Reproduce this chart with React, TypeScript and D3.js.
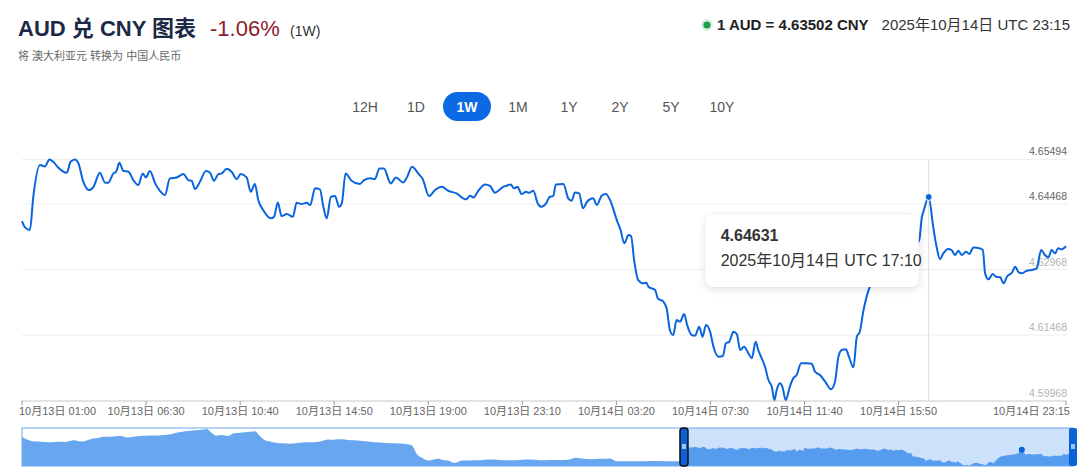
import React from 'react'
import * as d3 from 'd3'

const FONT = "'Liberation Sans', Arial, 'Noto Sans CJK SC', sans-serif"

const windowStart = '2025-10-13T01:00Z'

// minutes after 2025-10-13 01:00 UTC
const minutes = [
  0, 8, 21, 30, 48, 61, 73, 83, 96, 119, 129, 141, 150, 163, 179, 190, 207, 221, 229, 243,
  250, 259, 269, 283, 296, 309, 321, 329, 340, 354, 367, 380, 393, 411, 429, 442, 451, 460, 473, 489,
  500, 510, 522, 531, 544, 557, 571, 581, 597, 608, 619, 628, 641, 661, 670, 680, 690, 704, 720, 730,
  743, 757, 766, 779, 792, 801, 810, 821, 832, 843, 850, 860, 876, 898, 909, 925, 938, 950, 962, 980,
  994, 1013, 1023, 1037, 1053, 1065, 1082, 1098, 1116, 1133, 1155, 1180, 1191, 1200, 1213, 1231, 1244, 1257, 1279, 1288,
  1299, 1308, 1317, 1328, 1340, 1348, 1359, 1371, 1381, 1393, 1403, 1412, 1419, 1439, 1452, 1461, 1470, 1481, 1491, 1502,
  1518, 1528, 1541, 1552, 1563, 1581, 1591, 1601, 1612, 1619, 1627, 1638, 1652, 1660, 1665, 1674, 1683, 1690, 1705, 1714,
  1722, 1731, 1740, 1749, 1760, 1768, 1780, 1789, 1800, 1809, 1818, 1829, 1838, 1851, 1863, 1871, 1880, 1891, 1900, 1909,
  1919, 1931, 1940, 1950, 1957, 1966, 1975, 1984, 1993, 2000, 2006, 2015, 2021, 2030, 2041, 2050, 2059, 2071, 2086, 2099,
  2108, 2121, 2135, 2150, 2161, 2170, 2179, 2190, 2198, 2210, 2219, 2227, 2236, 2245, 2254, 2267, 2283, 2299, 2315, 2331,
  2347, 2363, 2374, 2385, 2392, 2396, 2410, 2422, 2431, 2440, 2449, 2462, 2471, 2480, 2489, 2498, 2509, 2518, 2529, 2547,
  2554, 2560, 2569, 2580, 2589, 2600, 2609, 2618, 2631, 2640, 2648, 2657, 2671, 2684, 2697, 2709, 2719, 2728, 2737, 2746,
  2754, 2763, 2775,
]

const rates = [
  4.64079, 4.63934, 4.63873, 4.64635, 4.65361, 4.6533, 4.65492, 4.65437, 4.65308, 4.65185, 4.65437, 4.65492, 4.654, 4.64979, 4.64789, 4.64864, 4.65185, 4.64956, 4.64956, 4.65171,
  4.65208, 4.65414, 4.65231, 4.65208, 4.65018, 4.64903, 4.65171, 4.65079, 4.65224, 4.64942, 4.64766, 4.64674, 4.65057, 4.65079, 4.65155, 4.65018, 4.65002, 4.64812, 4.64979, 4.65224,
  4.65185, 4.65002, 4.65155, 4.65171, 4.65276, 4.65208, 4.65041, 4.65155, 4.65079, 4.6475, 4.64926, 4.6456, 4.64331, 4.64141, 4.64177, 4.64507, 4.64193, 4.64239, 4.64177, 4.64498,
  4.64468, 4.64498, 4.64445, 4.64828, 4.64805, 4.64406, 4.64141, 4.64635, 4.64651, 4.64406, 4.64484, 4.65171, 4.65002, 4.64926, 4.65018, 4.65057, 4.65041, 4.65286, 4.65286, 4.64942,
  4.65079, 4.64965, 4.65079, 4.65322, 4.65171, 4.65041, 4.64651, 4.64789, 4.64864, 4.64773, 4.64713, 4.64576, 4.64658, 4.64621, 4.64773, 4.64919, 4.64887, 4.64727, 4.64864, 4.64887,
  4.64919, 4.64828, 4.64864, 4.64697, 4.6475, 4.64727, 4.64773, 4.64484, 4.64406, 4.64484, 4.64635, 4.64651, 4.64919, 4.64926, 4.64599, 4.64544, 4.64736, 4.64713, 4.6437, 4.64521,
  4.64599, 4.64445, 4.64663, 4.64697, 4.6456, 4.64102, 4.63873, 4.63568, 4.63758, 4.63735, 4.63186, 4.62728, 4.62652, 4.62666, 4.62574, 4.62537, 4.62499, 4.62308, 4.62231, 4.62057,
  4.61583, 4.61468, 4.61812, 4.61773, 4.61949, 4.61697, 4.61468, 4.61452, 4.61658, 4.61429, 4.61697, 4.61544, 4.612, 4.60971, 4.60987, 4.61278, 4.61315, 4.61544, 4.61491, 4.61125,
  4.612, 4.61049, 4.60934, 4.61315, 4.61125, 4.60934, 4.60742, 4.60437, 4.60284, 4.59979, 4.60208, 4.60362, 4.60284, 4.59979, 4.60284, 4.60476, 4.60552, 4.6082, 4.6082, 4.6081,
  4.60628, 4.60552, 4.60399, 4.60225, 4.60399, 4.60971, 4.61125, 4.61141, 4.60971, 4.60728, 4.61429, 4.61544, 4.62002, 4.62345, 4.6259, 4.62773, 4.62911, 4.63002, 4.6314, 4.63231,
  4.63323, 4.63415, 4.63506, 4.63644, 4.64177, 4.64292, 4.64631, 4.63948, 4.6349, 4.63208, 4.63339, 4.63437, 4.63415, 4.633, 4.63399, 4.633, 4.63376, 4.63323, 4.63476, 4.63449,
  4.63415, 4.62881, 4.62744, 4.62865, 4.62803, 4.6279, 4.62652, 4.62803, 4.62895, 4.63032, 4.62918, 4.62881, 4.62941, 4.62957, 4.62996, 4.63415, 4.633, 4.63247, 4.63415, 4.63339,
  4.63454, 4.63431, 4.63502,
]

// earlier part of the week (navigator only), trading minutes before the window start
const historyMinutes = [
  -4722, -4687, -4658, -4608, -4558, -4509, -4466, -4416, -4380, -4352, -4316, -4287, -4252, -4216, -4180, -4145, -4095, -4052, -4016, -3974,
  -3924, -3874, -3831, -3795, -3752, -3702, -3652, -3602, -3567, -3524, -3481, -3431, -3403, -3367, -3331, -3296, -3253, -3210, -3167, -3132,
  -3096, -3060, -3032, -2989, -2953, -2911, -2861, -2811, -2768, -2718, -2668, -2618, -2575, -2540, -2504, -2468, -2418, -2368, -2326, -2297,
  -2254, -2226, -2176, -2126, -2076, -2040, -2005, -1969, -1940, -1905, -1869, -1826, -1791, -1755, -1719, -1684, -1634, -1584, -1534, -1484,
  -1434, -1384, -1313, -1241, -1170, -1091, -1027, -956, -885, -806, -778, -720, -656, -599, -528, -478, -421, -350, -278, -207,
  -136, -64, -29,
]

const historyRates = [
  4.6836, 4.6762, 4.6721, 4.6704, 4.6692, 4.6686, 4.6698, 4.6692, 4.6718, 4.6742, 4.6715, 4.6704, 4.6748, 4.6792, 4.6807, 4.6845, 4.6839, 4.6856, 4.6862, 4.6821,
  4.6845, 4.6862, 4.6868, 4.6874, 4.688, 4.6895, 4.6924, 4.6968, 4.6992, 4.7015, 4.7027, 4.7048, 4.7065, 4.6945, 4.6874, 4.6895, 4.6862, 4.6945, 4.6956, 4.6968,
  4.6983, 4.6998, 4.6895, 4.6742, 4.6704, 4.6671, 4.6651, 4.6642, 4.6657, 4.6674, 4.668, 4.6692, 4.6727, 4.6762, 4.6754, 4.6771, 4.6762, 4.6739, 4.6733, 4.6721,
  4.6704, 4.6692, 4.6674, 4.6662, 4.6651, 4.6645, 4.6642, 4.6627, 4.6589, 4.6336, 4.6233, 4.6154, 4.618, 4.6204, 4.6174, 4.6154, 4.6083, 4.6154, 4.616, 4.6166,
  4.6174, 4.6183, 4.6174, 4.6166, 4.6174, 4.6183, 4.6163, 4.6174, 4.6168, 4.6195, 4.6233, 4.621, 4.6195, 4.6204, 4.6216, 4.6133, 4.6133, 4.6136, 4.6133, 4.6139,
  4.6133, 4.6136, 4.6133,
]

const xTicks = [
  '2025-10-13T01:00Z', '2025-10-13T06:30Z', '2025-10-13T10:40Z', '2025-10-13T14:50Z', '2025-10-13T19:00Z', '2025-10-13T23:10Z',
  '2025-10-14T03:20Z', '2025-10-14T07:30Z', '2025-10-14T11:40Z', '2025-10-14T15:50Z', '2025-10-14T23:15Z',
]
const yTicks = [4.59968, 4.61468, 4.62968, 4.64468, 4.65494]
const ranges = ['12H', '1D', '1W', '1M', '1Y', '2Y', '5Y', '10Y']
const activeRange = '1W'
const hoverTime = '2025-10-14T17:10Z'
const hoverRate = 4.64631
const latestRate = 4.63502
const latestTime = '2025-10-14T23:15Z'
const weekChange = -1.06

const t0 = new Date(windowStart).getTime()
const toDate = (m: number) => new Date(t0 + m * 60000)

export default function App() {
  const width = 1080
  const height = 476

  const data = minutes.map((m, i) => ({ t: toDate(m), m, v: rates[i] }))
  const navData = historyMinutes
    .map((m, i) => ({ m, v: historyRates[i] }))
    .concat(data.map(d => ({ m: d.m, v: d.v })))

  const x = d3.scaleUtc().domain([data[0].t, data[data.length - 1].t]).range([22, 1066])
  const y = d3.scaleLinear().domain([yTicks[0], yTicks[yTicks.length - 1]]).range([400.5, 159.3])

  const line = d3
    .line<{ t: Date; v: number }>()
    .x(d => x(d.t))
    .y(d => y(d.v))
    .curve(d3.curveMonotoneX)

  const navX = d3
    .scaleLinear()
    .domain([historyMinutes[0], minutes[minutes.length - 1]])
    .range([22, 1073])
  const navY = d3
    .scaleLinear()
    .domain(d3.extent(navData, d => d.v) as [number, number])
    .range([466, 429])
  const navArea = d3
    .area<{ m: number; v: number }>()
    .x(d => navX(d.m))
    .y0(466)
    .y1(d => navY(d.v))
    .curve(d3.curveMonotoneX)

  const tickFmt = d3.utcFormat('%-m月%-d日 %H:%M')
  const longFmt = d3.utcFormat('%Y年%-m月%-d日 UTC %H:%M')
  const rateFmt = d3.format('.5f')

  const btn = d3.scalePoint<string>().domain(ranges).range([365, 722])

  const hx = x(new Date(hoverTime))
  const hy = y(hoverRate)
  const tipW = 213
  const tipH = 72
  const tipX = hx - 10 - tipW
  const tipY = hy + 18

  const selL = navX(0)
  const selR = navX(minutes[minutes.length - 1])

  return (
    <svg
      width={width}
      height={height}
      style={{ position: 'absolute', left: 0, top: 0, fontFamily: FONT }}
    >
      <defs>
        <filter id="shadow" x="-20%" y="-30%" width="140%" height="170%">
          <feDropShadow dx="0" dy="2" stdDeviation="4" floodColor="#000" floodOpacity="0.14" />
        </filter>
      </defs>
      <rect width={width} height={height} fill="#fff" />

      {/* header */}
      <text x={18} y={36} fontSize={22} fontWeight="bold" fill="#1b2a44">
        AUD 兑 CNY 图表
      </text>
      <text x={210} y={36} fontSize={22} fill="#8e1b2e">
        {weekChange.toFixed(2)}%
      </text>
      <text x={290} y={36} fontSize={14} fill="#333">
        ({activeRange})
      </text>
      <text x={18} y={60} fontSize={11} fill="#666">
        将 澳大利亚元 转换为 中国人民币
      </text>

      <circle cx={707} cy={25} r={6} fill="#dcefe1" />
      <circle cx={707} cy={25} r={3.6} fill="#18a148" />
      <text x={717} y={30} fontSize={15} fontWeight="bold" fill="#222">
        1 AUD = {rateFmt(latestRate)} CNY
      </text>
      <text x={1070} y={30} fontSize={15} fill="#333" textAnchor="end">
        {longFmt(new Date(latestTime))}
      </text>

      {/* range buttons */}
      {ranges.map(r => {
        const cx = btn(r)!
        const on = r === activeRange
        return (
          <g key={r}>
            {on && <rect x={cx - 24} y={92} width={48} height={29} rx={14.5} fill="#0b69e3" />}
            <text
              x={cx}
              y={111.5}
              textAnchor="middle"
              fontSize={14}
              fontWeight={on ? 'bold' : 'normal'}
              fill={on ? '#fff' : '#555'}
            >
              {r}
            </text>
          </g>
        )
      })}

      {/* grid + y labels */}
      {yTicks.map((t, i) => (
        <g key={t}>
          {i > 0 && <line x1={22} x2={1067} y1={y(t)} y2={y(t)} stroke="#eeeeee" />}
          <text
            x={1067}
            y={y(t) - 4}
            textAnchor="end"
            fontSize={10.5}
            fill={t > 4.64 ? '#666' : '#b3b3b3'}
          >
            {t.toFixed(5)}
          </text>
        </g>
      ))}

      {/* x axis */}
      <line x1={21} x2={1066} y1={401} y2={401} stroke="#c8c8c8" />
      {xTicks.map((s, i) => {
        const d = new Date(s)
        const tx = x(d)
        const first = i === 0
        const last = i === xTicks.length - 1
        return (
          <g key={s}>
            <line x1={tx} x2={tx} y1={401} y2={405} stroke="#999" />
            <text
              x={first ? tx - 3 : last ? tx + 4 : tx}
              y={415}
              fontSize={11}
              fill="#666"
              textAnchor={first ? 'start' : last ? 'end' : 'middle'}
            >
              {tickFmt(d)}
            </text>
          </g>
        )
      })}

      {/* crosshair */}
      <line x1={hx} x2={hx} y1={159} y2={401} stroke="#dcdcdc" />

      <path d={line(data) ?? ''} fill="none" stroke="#0a64dc" strokeWidth={2} strokeLinejoin="round" />
      <circle cx={hx} cy={hy} r={3.5} fill="#0a64dc" stroke="#fff" strokeWidth={1} />

      {/* tooltip */}
      <g filter="url(#shadow)">
        <rect x={tipX} y={tipY} width={tipW} height={tipH} rx={8} fill="#fff" />
      </g>
      <text x={tipX + 15} y={tipY + 26.5} fontSize={16} fontWeight="bold" fill="#333">
        {rateFmt(hoverRate)}
      </text>
      <text x={tipX + 15} y={tipY + 51} fontSize={16} fill="#333">
        {longFmt(new Date(hoverTime))}
      </text>

      {/* navigator */}
      <path d={navArea(navData) ?? ''} fill="#68a7f0" />
      <rect x={selL} y={428} width={selR - selL} height={38} fill="rgba(24,118,230,0.22)" />
      <rect x={22} y={428} width={1051} height={38} fill="none" stroke="#6aa8f0" />
      <circle cx={navX(minutes[minutes.indexOf(2410)])} cy={navY(hoverRate)} r={3} fill="#0a64dc" />
      <rect x={selL - 4} y={428} width={8} height={38} rx={3} fill="#0a63d6" stroke="#111" strokeWidth={1.5} />
      <rect x={selL - 2} y={444} width={4} height={5} fill="#9cc4f5" />
      <rect x={selR - 4} y={428} width={8} height={38} rx={2} fill="#0a63d6" />
      <rect x={selR - 2} y={444} width={4} height={5} fill="#9cc4f5" />
    </svg>
  )
}
